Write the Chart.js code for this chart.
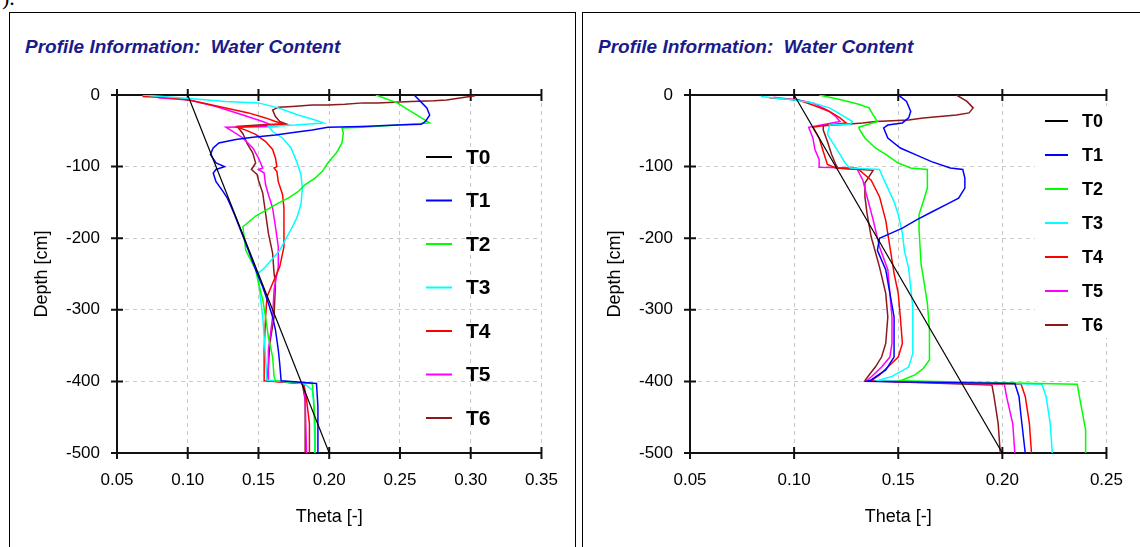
<!DOCTYPE html>
<html lang="en">
<head>
<meta charset="UTF-8">
<title>Profile Information: Water Content</title>
<script src="https://cdn.jsdelivr.net/npm/chart.js"></script>
<style>
    body {
        margin: 0;
        width: 1140px;
        height: 547px;
        overflow: hidden;
        background: #fff;
        position: relative;
        font-family: 'Liberation Sans', Arial, sans-serif;
    }
    .frag {
        position: absolute;
        left: 2px;
        top: -15px;
        font: 22px 'Liberation Serif', 'Times New Roman', serif;
    }
    .panel {
        position: absolute;
        top: 12px;
        height: 600px;
        border: 1px solid #000;
        box-sizing: border-box;
    }
    .title {
        position: absolute;
        top: 37px;
        font-size: 19px;
        line-height: 19px;
        font-weight: bold;
        font-style: italic;
        color: #1a1a8a;
        white-space: pre;
    }
    .wrap {
        position: absolute;
        top: 60px;
        height: 487px;
    }
</style>
</head>
<body>
<div class="frag">).</div>
<div class="panel" style="left:9px;width:567px"></div>
<div class="panel" style="left:582px;width:570px"></div>
<div class="title" style="left:25px">Profile Information:  Water Content</div>
<div class="title" style="left:598px">Profile Information:  Water Content</div>
<div class="wrap" style="left:10px;width:565px"><canvas id="leftChart"></canvas></div>
<div class="wrap" style="left:583px;width:557px"><canvas id="rightChart"></canvas></div>
<script>
    // series names, T0..T6
    const seriesNames = ['T0', 'T1', 'T2', 'T3', 'T4', 'T5', 'T6'];

    // left profile, points are [theta, depth]
    const leftT0 = [[0.100, 0], [0.200, -500]];
    const leftT1 = [[0.260, 0], [0.269, -18], [0.271, -28], [0.268, -37], [0.265, -41], [0.248, -42], [0.223, -44], [0.199, -45], [0.188, -49], [0.176, -52], [0.162, -56], [0.146, -59], [0.134, -62], [0.122, -67], [0.118, -74], [0.116, -83], [0.120, -95], [0.126, -100], [0.120, -104], [0.118, -109], [0.120, -121], [0.125, -135], [0.128, -144], [0.130, -153], [0.133, -167], [0.140, -202], [0.148, -244], [0.153, -268], [0.157, -291], [0.160, -310], [0.162, -328], [0.164, -356], [0.165, -375], [0.166, -399], [0.191, -403], [0.192, -435], [0.192, -500]];
    const leftT2 = [[0.233, 0], [0.248, -11], [0.262, -28], [0.271, -39], [0.248, -42], [0.223, -45], [0.209, -46], [0.210, -53], [0.209, -67], [0.205, -81], [0.199, -95], [0.195, -107], [0.190, -116], [0.183, -125], [0.178, -135], [0.171, -144], [0.164, -151], [0.148, -169], [0.139, -184], [0.141, -217], [0.148, -244], [0.150, -263], [0.153, -286], [0.155, -310], [0.157, -338], [0.160, -366], [0.161, -393], [0.162, -399], [0.188, -403], [0.189, -426], [0.190, -459], [0.190, -500]];
    const leftT3 = [[0.068, 0], [0.101, -5], [0.127, -9], [0.150, -11], [0.164, -18], [0.178, -28], [0.190, -35], [0.196, -39], [0.176, -42], [0.157, -44], [0.160, -51], [0.167, -60], [0.173, -74], [0.177, -93], [0.180, -111], [0.181, -130], [0.180, -153], [0.177, -172], [0.174, -184], [0.165, -217], [0.155, -240], [0.150, -249], [0.151, -277], [0.153, -310], [0.154, -338], [0.155, -366], [0.156, -398], [0.182, -403], [0.188, -412], [0.189, -430], [0.190, -500]];
    const leftT4 = [[0.068, -2], [0.087, -4], [0.101, -7], [0.122, -16], [0.143, -25], [0.155, -32], [0.162, -37], [0.169, -41], [0.157, -42], [0.143, -44], [0.135, -45], [0.141, -49], [0.148, -55], [0.155, -65], [0.160, -76], [0.162, -88], [0.163, -100], [0.161, -102], [0.163, -107], [0.164, -121], [0.167, -139], [0.168, -158], [0.168, -184], [0.168, -212], [0.165, -240], [0.160, -263], [0.156, -282], [0.155, -310], [0.154, -356], [0.154, -399], [0.182, -403], [0.184, -426], [0.186, -459], [0.186, -500]];
    const leftT5 = [[0.079, -4], [0.101, -7], [0.120, -16], [0.139, -28], [0.153, -37], [0.162, -44], [0.127, -45], [0.132, -51], [0.139, -60], [0.146, -74], [0.150, -88], [0.153, -102], [0.150, -104], [0.154, -109], [0.155, -125], [0.157, -139], [0.160, -158], [0.162, -184], [0.164, -212], [0.164, -240], [0.161, -272], [0.160, -310], [0.157, -356], [0.157, -399], [0.182, -403], [0.183, -426], [0.184, -500]];
    const leftT6 = [[0.303, -1], [0.283, -7], [0.274, -8], [0.258, -9], [0.246, -10], [0.234, -11], [0.224, -11], [0.211, -13], [0.199, -14], [0.188, -14], [0.174, -16], [0.164, -17], [0.160, -21], [0.162, -30], [0.165, -37], [0.169, -40], [0.150, -42], [0.135, -44], [0.139, -54], [0.142, -68], [0.146, -81], [0.148, -95], [0.145, -104], [0.149, -111], [0.150, -119], [0.153, -137], [0.155, -165], [0.157, -193], [0.160, -221], [0.161, -249], [0.162, -263], [0.161, -310], [0.158, -347], [0.157, -380], [0.156, -399], [0.181, -403], [0.183, -426], [0.183, -500]];

    // right profile
    const rightT0 = [[0.100, 0], [0.200, -500]];
    const rightT1 = [[0.150, 0], [0.154, -9], [0.156, -23], [0.155, -32], [0.152, -39], [0.145, -42], [0.143, -46], [0.145, -60], [0.151, -74], [0.158, -83], [0.166, -93], [0.175, -102], [0.181, -104], [0.182, -116], [0.182, -130], [0.179, -144], [0.173, -153], [0.167, -162], [0.159, -174], [0.152, -186], [0.145, -195], [0.141, -200], [0.140, -217], [0.144, -244], [0.146, -277], [0.148, -310], [0.148, -347], [0.148, -366], [0.144, -384], [0.137, -398], [0.135, -400], [0.206, -403], [0.208, -421], [0.209, -449], [0.211, -500]];
    const rightT2 = [[0.112, 0], [0.123, -7], [0.131, -13], [0.136, -18], [0.138, -28], [0.140, -37], [0.131, -45], [0.132, -51], [0.134, -60], [0.139, -74], [0.144, -83], [0.150, -95], [0.156, -102], [0.164, -104], [0.164, -130], [0.162, -149], [0.160, -167], [0.160, -189], [0.161, -237], [0.162, -254], [0.164, -291], [0.165, -328], [0.165, -370], [0.162, -382], [0.158, -391], [0.152, -398], [0.150, -399], [0.236, -404], [0.237, -421], [0.240, -468], [0.240, -500]];
    const rightT3 = [[0.084, -2], [0.100, -7], [0.109, -11], [0.117, -18], [0.123, -28], [0.128, -37], [0.127, -41], [0.117, -42], [0.116, -55], [0.119, -69], [0.122, -83], [0.125, -97], [0.127, -102], [0.141, -104], [0.142, -111], [0.145, -130], [0.148, -149], [0.150, -167], [0.152, -193], [0.153, -218], [0.155, -242], [0.157, -296], [0.157, -338], [0.157, -361], [0.155, -380], [0.147, -393], [0.140, -399], [0.219, -404], [0.221, -421], [0.223, -459], [0.224, -500]];
    const rightT4 = [[0.088, -4], [0.102, -7], [0.109, -14], [0.117, -23], [0.122, -32], [0.125, -39], [0.116, -42], [0.109, -45], [0.112, -60], [0.114, -79], [0.116, -97], [0.120, -102], [0.131, -104], [0.137, -119], [0.141, -142], [0.144, -175], [0.146, -212], [0.148, -249], [0.150, -277], [0.151, -310], [0.152, -347], [0.150, -366], [0.145, -380], [0.141, -391], [0.137, -399], [0.209, -404], [0.211, -421], [0.213, -459], [0.214, -500]];
    const rightT5 = [[0.090, -3], [0.102, -7], [0.109, -11], [0.116, -21], [0.120, -30], [0.122, -37], [0.107, -45], [0.109, -60], [0.110, -76], [0.112, -90], [0.112, -101], [0.130, -102], [0.133, -119], [0.135, -142], [0.138, -175], [0.141, -212], [0.145, -244], [0.146, -277], [0.147, -310], [0.147, -347], [0.146, -366], [0.142, -380], [0.138, -391], [0.135, -399], [0.201, -404], [0.202, -421], [0.205, -459], [0.206, -500]];
    const rightT6 = [[0.178, 0], [0.183, -9], [0.186, -18], [0.184, -25], [0.178, -28], [0.170, -30], [0.162, -32], [0.155, -35], [0.147, -36], [0.139, -37], [0.133, -39], [0.125, -41], [0.114, -43], [0.114, -49], [0.116, -65], [0.118, -83], [0.120, -97], [0.121, -102], [0.138, -105], [0.134, -123], [0.134, -142], [0.135, -165], [0.137, -198], [0.141, -240], [0.144, -277], [0.145, -310], [0.144, -347], [0.142, -366], [0.139, -380], [0.136, -391], [0.134, -399], [0.195, -405], [0.196, -421], [0.198, -459], [0.199, -500]];

    // axis ranges / tick labels
    const depthTicks = [0, -100, -200, -300, -400, -500];
    const leftThetaTicks = [0.05, 0.10, 0.15, 0.20, 0.25, 0.30, 0.35];
    const rightThetaTicks = [0.05, 0.10, 0.15, 0.20, 0.25];

    const lineColors = ['#000000', '#0000ff', '#00ff00', '#00ffff', '#ff0000', '#ff00ff', '#8b1a1a'];
    const FONT = "'Liberation Sans', Arial, sans-serif";

    // solid axes with cross ticks + hand placed legend
    const framePlugin = {
        id: 'frame',
        beforeDatasetsDraw(chart) {
            const {ctx, chartArea: a, scales} = chart;
            ctx.save();
            ctx.strokeStyle = '#111';
            ctx.lineWidth = 2;
            ctx.beginPath();
            ctx.moveTo(a.left, a.top); ctx.lineTo(a.right, a.top);
            ctx.moveTo(a.left, a.bottom); ctx.lineTo(a.right, a.bottom);
            ctx.moveTo(a.left, a.top); ctx.lineTo(a.left, a.bottom);
            scales.x.ticks.forEach(t => {
                const px = scales.x.getPixelForValue(t.value);
                ctx.moveTo(px, a.top - 6); ctx.lineTo(px, a.top + 6);
                ctx.moveTo(px, a.bottom - 6); ctx.lineTo(px, a.bottom + 6);
            });
            scales.y.ticks.forEach(t => {
                const py = scales.y.getPixelForValue(t.value);
                ctx.moveTo(a.left - 6, py); ctx.lineTo(a.left + 6, py);
            });
            ctx.stroke();
            ctx.restore();
        },
        afterDraw(chart, args, opts) {
            const {ctx} = chart;
            const lg = opts.legend;
            if (!lg) return;
            ctx.save();
            if (lg.bg) {
                ctx.fillStyle = '#fff';
                ctx.fillRect(lg.bg[0], lg.bg[1], lg.bg[2], lg.bg[3]);
            }
            ctx.font = 'bold ' + lg.size + 'px ' + FONT;
            ctx.textBaseline = 'middle';
            ctx.textAlign = 'left';
            chart.data.datasets.forEach((ds, i) => {
                const y = lg.y + i * lg.dy;
                ctx.strokeStyle = ds.borderColor;
                ctx.lineWidth = 2;
                ctx.beginPath();
                ctx.moveTo(lg.x, y);
                ctx.lineTo(lg.x + lg.len, y);
                ctx.stroke();
                ctx.fillStyle = '#000';
                ctx.fillText(ds.label, lg.tx, y + 1);
            });
            ctx.restore();
        }
    };

    function makeChart(id, series, thetaTicks, legend) {
        const datasets = series.map((pts, i) => ({
            label: seriesNames[i],
            data: pts.map(p => ({x: p[0], y: p[1]})),
            borderColor: lineColors[i],
            backgroundColor: lineColors[i],
            borderWidth: i === 0 ? 1.2 : 1.5,
            showLine: true,
            pointRadius: 0,
            tension: 0
        }));
        return new Chart(document.getElementById(id), {
            type: 'scatter',
            data: {datasets: datasets},
            options: {
                responsive: true,
                maintainAspectRatio: false,
                animation: false,
                layout: {padding: {left: 0, top: 35, right: id === 'leftChart' ? 30 : 23, bottom: 0}},
                plugins: {
                    legend: {display: false},
                    tooltip: {enabled: false},
                    frame: {legend: legend}
                },
                scales: {
                    x: {
                        type: 'linear',
                        min: thetaTicks[0],
                        max: thetaTicks[thetaTicks.length - 1],
                        afterBuildTicks: s => { s.ticks = thetaTicks.map(v => ({value: v})); },
                        afterFit: s => { s.height = 94; },
                        ticks: {
                            callback: v => Number(v).toFixed(2),
                            padding: 17,
                            autoSkip: false,
                            maxRotation: 0,
                            color: '#000',
                            font: {family: FONT, size: 17}
                        },
                        grid: {color: '#c8c8c8', lineWidth: 1, drawTicks: false},
                        border: {display: false, dash: [4, 4]},
                        title: {
                            display: true,
                            text: 'Theta [-]',
                            color: '#000',
                            font: {family: FONT, size: 18},
                            padding: {top: 0, bottom: 19}
                        }
                    },
                    y: {
                        type: 'linear',
                        min: -500,
                        max: 0,
                        afterBuildTicks: s => { s.ticks = depthTicks.map(v => ({value: v})); },
                        afterFit: s => { s.width = 107; },
                        ticks: {
                            padding: 17,
                            color: '#000',
                            font: {family: FONT, size: 17}
                        },
                        grid: {color: '#c8c8c8', lineWidth: 1, drawTicks: false},
                        border: {display: false, dash: [4, 4]},
                        title: {
                            display: true,
                            text: 'Depth [cm]',
                            color: '#000',
                            font: {family: FONT, size: 18},
                            padding: {top: 21, bottom: 0}
                        }
                    }
                }
            },
            plugins: [framePlugin]
        });
    }

    makeChart('leftChart',
        [leftT0, leftT1, leftT2, leftT3, leftT4, leftT5, leftT6],
        leftThetaTicks,
        {x: 416, len: 26, tx: 456, y: 97, dy: 43.5, size: 21});

    makeChart('rightChart',
        [rightT0, rightT1, rightT2, rightT3, rightT4, rightT5, rightT6],
        rightThetaTicks,
        {x: 462, len: 23, tx: 499, y: 61, dy: 34, size: 18, bg: [452, 46, 78, 232]});
</script>
</body>
</html>
